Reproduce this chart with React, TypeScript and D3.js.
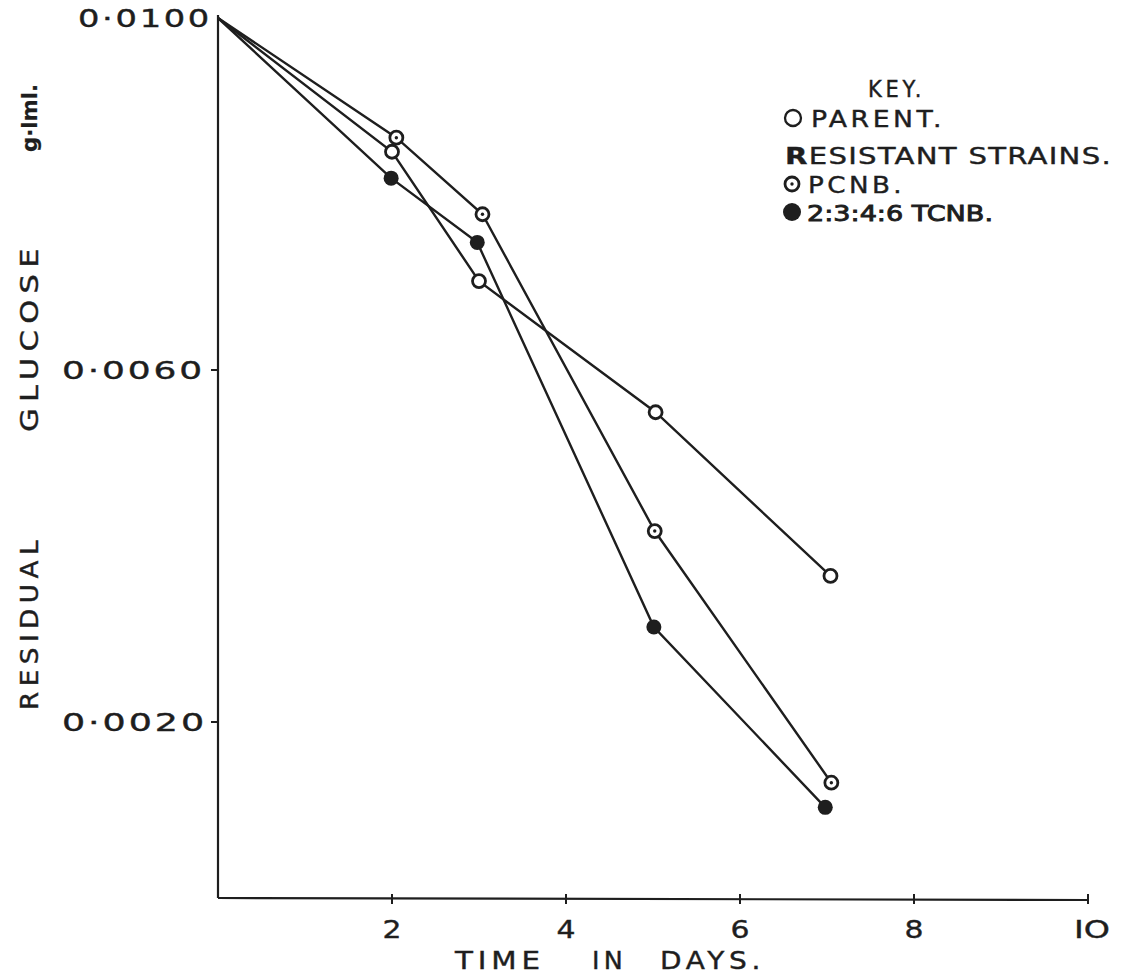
import React from "react";
import * as d3 from "d3";

// values (days, g/ml residual glucose)
const parentDays = [0, 2.0, 3.0, 5.03, 7.04];
const parentGlucose = [0.01, 0.00848, 0.00701, 0.00552, 0.00366];

const pcnbDays = [0, 2.05, 3.04, 5.02, 7.05];
const pcnbGlucose = [0.01, 0.00864, 0.00777, 0.00417, 0.00131];

const tcnbDays = [0, 1.99, 2.98, 5.01, 6.98];
const tcnbGlucose = [0.01, 0.00818, 0.00745, 0.00308, 0.00103];

const xTicks = [2, 4, 6, 8, 10];
const yTicks = [0.01, 0.006, 0.002];
const yTickLabels = ["0·0100", "0·0060", "0·0020"];

const width = 1134;
const height = 975;
const marginLeft = 218; // x of the y axis
const marginTop = 18;
const xEnd = 1088;
const yBottom = 898;

const ink = "#1e1e1e";
const font = "'DejaVu Sans', sans-serif";

type Pt = { x: number; y: number };

function zip(xs: number[], ys: number[]): Pt[] {
  return xs.map((x, i) => ({ x, y: ys[i] }));
}

function Marker({ kind, cx, cy, r = 6.5, sw = 2.8 }: { kind: string; cx: number; cy: number; r?: number; sw?: number }) {
  if (kind === "filled") {
    return <circle cx={cx} cy={cy} r={r + 1} fill={ink} />;
  }
  return (
    <g>
      <circle cx={cx} cy={cy} r={r} fill="white" stroke={ink} strokeWidth={sw} />
      {kind === "dotted" && <circle cx={cx} cy={cy} r={1.7} fill={ink} />}
    </g>
  );
}

// lettering: some letter spacing, then stretched to the widths measured on the original
const T = (props: any) => (
  <text
    fill={ink}
    stroke={ink}
    strokeWidth={0.4}
    letterSpacing={2}
    lengthAdjust="spacingAndGlyphs"
    {...props}
  />
);

export default function App() {
  const xScale = d3.scaleLinear().domain([0, 10]).range([marginLeft, xEnd]);
  const yScale = d3.scaleLinear().domain([0, 0.01]).range([yBottom, marginTop]);

  const line = d3
    .line<Pt>()
    .x((d) => xScale(d.x))
    .y((d) => yScale(d.y));

  const series = [
    { kind: "open", pts: zip(parentDays, parentGlucose) },
    { kind: "dotted", pts: zip(pcnbDays, pcnbGlucose) },
    { kind: "filled", pts: zip(tcnbDays, tcnbGlucose) },
  ];

  const yLabelRight = [212, 205, 207];
  const yLabelLen = [134, 143, 145];

  return (
    <svg
      width={width}
      height={height}
      style={{ position: "absolute", left: 0, top: 0, background: "white" }}
      fontFamily={font}
    >
      <rect width={width} height={height} fill="white" />

      {/* axes */}
      <line x1={marginLeft} x2={marginLeft} y1={yScale(0.01) - 3} y2={yBottom} stroke={ink} strokeWidth={2.2} />
      <line x1={marginLeft} x2={xEnd} y1={yBottom} y2={yBottom + 2} stroke={ink} strokeWidth={2.2} />

      {xTicks.map((t) => (
        <g key={t}>
          <line x1={xScale(t)} x2={xScale(t)} y1={yBottom - 4} y2={yBottom + 6} stroke={ink} strokeWidth={2} />
          <T
            x={xScale(t) + (t === 10 ? 4 : 0)}
            y={yBottom + 40}
            textAnchor="middle"
            fontSize={25}
            letterSpacing={0}
            textLength={t === 10 ? 36 : 19}
          >
            {t === 10 ? "IO" : t}
          </T>
        </g>
      ))}

      {yTicks.map((t, i) => (
        <g key={t}>
          {i > 0 && <line x1={marginLeft - 7} x2={marginLeft} y1={yScale(t)} y2={yScale(t)} stroke={ink} strokeWidth={2} />}
          <T x={yLabelRight[i] - yLabelLen[i]} y={yScale(t) + 9} fontSize={25} textLength={yLabelLen[i]}>
            {yTickLabels[i]}
          </T>
        </g>
      ))}

      {/* axis titles */}
      <T x={455} y={969} fontSize={24} letterSpacing={4} textLength={90}>TIME</T>
      <T x={592} y={969} fontSize={24} letterSpacing={4} textLength={35}>IN</T>
      <T x={660} y={969} fontSize={24} letterSpacing={4} textLength={105}>DAYS.</T>

      <g transform="translate(38,0) rotate(-90)">
        <T x={-710} y={0} fontSize={24} letterSpacing={5} textLength={175}>RESIDUAL</T>
        <T x={-432} y={0} fontSize={24} letterSpacing={5} textLength={190}>GLUCOSE</T>
        <T x={-152} y={-1} fontSize={22} fontWeight="bold" strokeWidth={0.2} letterSpacing={0} textLength={68}>
          g·lml.
        </T>
      </g>

      {/* data */}
      {series.map((s) => (
        <path key={s.kind} d={line(s.pts) ?? ""} fill="none" stroke={ink} strokeWidth={2.4} />
      ))}
      {series.map((s) =>
        s.pts.slice(1).map((p, i) => (
          <Marker key={s.kind + i} kind={s.kind} cx={xScale(p.x)} cy={yScale(p.y)} />
        ))
      )}

      {/* key */}
      <T x={868} y={97} fontSize={23} letterSpacing={4} textLength={57}>KEY.</T>
      <Marker kind="open" cx={793} cy={118} r={8} sw={2.3} />
      <T x={811} y={127} fontSize={23} letterSpacing={3} textLength={134}>PARENT.</T>
      <T x={785} y={164} fontSize={23} letterSpacing={1} textLength={327}>
        <tspan fontWeight="bold">R</tspan>ESISTANT STRAINS.
      </T>
      <Marker kind="dotted" cx={792} cy={184} r={7} />
      <T x={808} y={193} fontSize={23} letterSpacing={3} textLength={97}>PCNB.</T>
      <Marker kind="filled" cx={792} cy={212} r={8} />
      <T x={807} y={221} fontSize={22} strokeWidth={0.9} letterSpacing={0} textLength={186}>2:3:4:6  TCNB.</T>
    </svg>
  );
}
